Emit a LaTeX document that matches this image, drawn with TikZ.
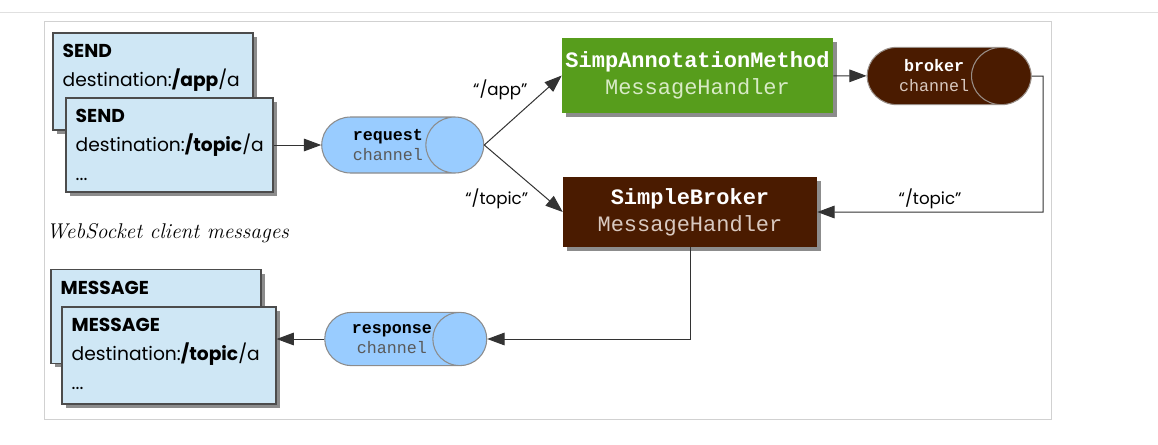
\documentclass[tikz,border=0pt]{standalone}
\usepackage{fontspec}
\newfontfamily\comicfont{Poppins}
\setmonofont{Liberation Mono}
\usetikzlibrary{shapes.geometric,arrows.meta,shadows,positioning}
\definecolor{paleblue}{HTML}{CFE7F5}
\definecolor{chanblue}{HTML}{99CCFF}
\definecolor{simpgreen}{HTML}{579D1C}
\definecolor{brokbrown}{HTML}{4A1B00}
\definecolor{greenlight}{HTML}{D8EBC6}
\definecolor{brownlight}{HTML}{D9C9C0}
\begin{document}
\begin{tikzpicture}[
        x=0.75pt,
        y=-0.75pt,
        font=\comicfont
    ]
    \tikzset{
        msgbox/.style = {rectangle, draw=black!70, fill=paleblue, line width=0.8pt,
            drop shadow={shadow xshift=3pt, shadow yshift=-3pt, fill=black!45, opacity=1}},
        msgtext/.style = {anchor=north west, align=left, inner xsep=7.5pt, inner ysep=8.5pt,
            font=\comicfont\fontsize{14}{21.75}\selectfont},
        chan/.style = {cylinder, shape border rotate=0, aspect=1.85, draw=black!45, line width=0.8pt,
            align=center, inner sep=0pt, font=\ttfamily\fontsize{12.5}{15}\selectfont},
        handler/.style = {rectangle, align=center, inner sep=0pt,
            font=\ttfamily\fontsize{16.5}{20}\selectfont,
            drop shadow={shadow xshift=3pt, shadow yshift=-3pt, fill=black!45, opacity=1}},
        conn/.style = {draw=black!80, line width=0.75pt, -{Triangle[length=13pt,width=9.5pt]}},
        lbl/.style = {font=\comicfont\fontsize{12.5}{14}\selectfont, inner sep=2pt},
    }
        \useasboundingbox (0,0) rectangle (1158,444);
        \draw[black!12, line width=0.75pt] (0,12) -- (1158,12);
        \draw[black!18, line width=0.75pt] (44,21) rectangle (1051,419);
        %
        \node[msgbox, minimum width=150pt, minimum height=72.75pt] at (153,81.5) (sendA) {};
        \node[msgtext] at (sendA.north west) (sendAtxt) {\textbf{SEND}\\destination:\textbf{/app}/a};
        \node[msgbox, minimum width=155.25pt, minimum height=70.5pt] at (169.5,145) (sendB) {};
        \node[msgtext] at (sendB.north west) (sendBtxt) {\textbf{SEND}\\destination:\textbf{/topic}/a\\...};
        %
        \node[anchor=west, font=\itshape\fontsize{16}{19}\selectfont] at (42,233) (caption) {WebSocket client messages};
        %
        \node[msgbox, minimum width=157.5pt, minimum height=70pt] at (156,316.5) (msgA) {};
        \node[msgtext] at (msgA.north west) (msgAtxt) {\textbf{MESSAGE}};
        \node[msgbox, minimum width=160.5pt, minimum height=72.75pt] at (169,355.5) (msgB) {};
        \node[msgtext] at (msgB.north west) (msgBtxt) {\textbf{MESSAGE}\\destination:\textbf{/topic}/a\\...};
        %
        \node[chan, fill=chanblue, minimum height=121.5pt, minimum width=42pt] at (388,145) (req)
            {\textbf{request}\\\textcolor{black!65}{channel}};
        \node[chan, fill=chanblue, minimum height=121.5pt, minimum width=40pt] at (392,339) (resp)
            {\textbf{response}\\\textcolor{black!65}{channel}};
        \node[chan, fill=brokbrown, draw=brownlight!70!black, minimum height=123pt, minimum width=43pt] at (934,76) (brokch)
            {\textbf{\textcolor{white}{broker}}\\\textcolor{brownlight}{channel}};
        %
        \node[handler, fill=simpgreen, minimum width=203.25pt, minimum height=56.25pt] at (697.5,75.5) (simp)
            {\textbf{\textcolor{white}{SimpAnnotationMethod}}\\\textcolor{greenlight}{MessageHandler}};
        \node[handler, fill=brokbrown, minimum width=190.5pt, minimum height=52.5pt] at (690,212) (sbrok)
            {\textbf{\textcolor{white}{SimpleBroker}}\\\textcolor{brownlight}{MessageHandler}};
        \coordinate (turn) at (1043,76);
        %
        \draw[conn] (sendB) -- (req);
        \draw[conn] (req.east) -- node[lbl, pos=0.6, above left] {“/app”} (simp.west);
        \draw[conn] (req.east) -- node[lbl, pos=0.6, below left] {“/topic”} (sbrok.west);
        \draw[conn] (simp) -- (brokch);
        \draw[conn] (brokch.east) -- (turn) |- node[lbl, pos=0.75, above] {“/topic”} (sbrok.east);
        \draw[conn] (sbrok.south) |- (resp.east);
        \draw[conn] (resp.west) -- (resp.west -| msgB.east);
    \end{tikzpicture}
\end{document}
